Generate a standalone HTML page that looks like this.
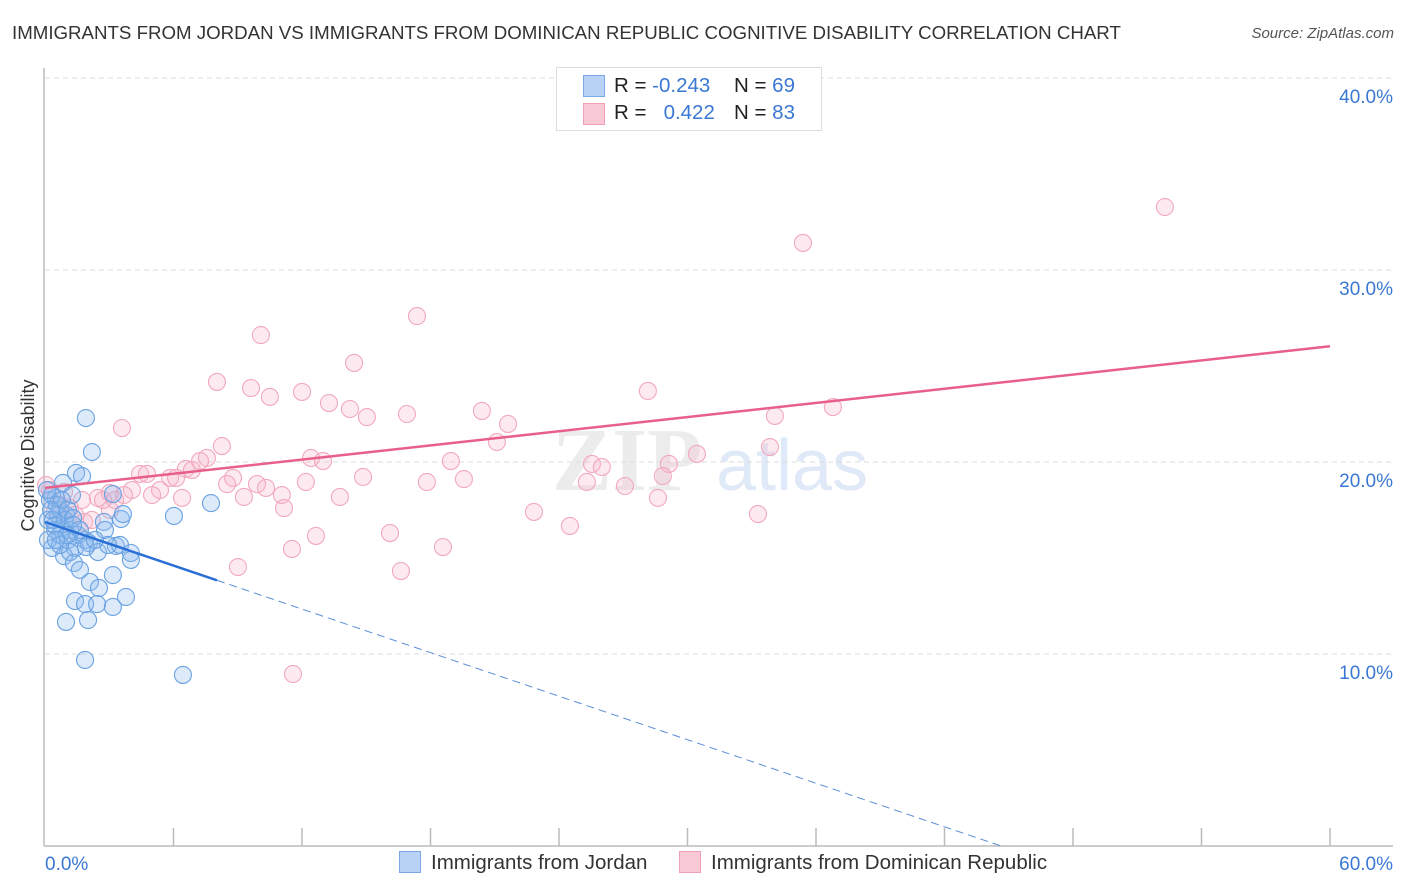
<!DOCTYPE html>
<html><head><meta charset="utf-8"><style>
body{margin:0;background:#fff;font-family:"Liberation Sans",sans-serif;}
#wrap{position:relative;width:1406px;height:892px;overflow:hidden;}
.t{position:absolute;white-space:nowrap;}
</style></head><body>
<div id="wrap">
<div class="t" style="left:12px;top:22px;font-size:18.7px;color:#333;">IMMIGRANTS FROM JORDAN VS IMMIGRANTS FROM DOMINICAN REPUBLIC COGNITIVE DISABILITY CORRELATION CHART</div>
<div class="t" style="right:12px;top:25px;font-size:15px;color:#555;font-style:italic;">Source: ZipAtlas.com</div>
<svg id="svg" width="1406" height="892" style="position:absolute;left:0;top:0"></svg>
<div class="t" style="left:556px;top:67px;width:264px;height:62px;border:1px solid #ddd;background:#fff;font-size:20.5px;">
 <div style="position:absolute;left:26px;top:7px;width:20px;height:20px;background:#b9d3f7;border:1px solid #7aa9e8;"></div>
 <div style="position:absolute;left:26px;top:35px;width:20px;height:20px;background:#fbc8d6;border:1px solid #f0a0b8;"></div>
 <div class="t" style="left:57px;top:6px;color:#222;">R = <span style="color:#3a78d4">-0.243</span></div>
 <div class="t" style="left:177px;top:6px;color:#222;">N = <span style="color:#3a78d4">69</span></div>
 <div class="t" style="left:57px;top:33px;color:#222;">R = &nbsp;&nbsp;<span style="color:#3a78d4">0.422</span></div>
 <div class="t" style="left:177px;top:33px;color:#222;">N = <span style="color:#3a78d4">83</span></div>
</div>
<div class="t" style="left:-54px;top:445px;width:165px;text-align:center;font-size:18px;color:#333;transform:rotate(-90deg);">Cognitive Disability</div>
<div class="t" style="left:399px;top:851px;font-size:20.5px;color:#333;"><span style="display:inline-block;width:20px;height:20px;background:#b9d3f7;border:1px solid #7aa9e8;vertical-align:-4px;margin-right:10px;"></span>Immigrants from Jordan</div>
<div class="t" style="left:679px;top:851px;font-size:20.5px;color:#333;"><span style="display:inline-block;width:20px;height:20px;background:#fbc8d6;border:1px solid #f0a0b8;vertical-align:-4px;margin-right:10px;"></span>Immigrants from Dominican Republic</div>
</div>
<script>
const xTicks=[0,60];
const yTicks=[10,20,30,40];
const jordanX=[1.91,2.19,1.45,1.73,0.84,1.26,3.17,0.23,0.51,0.70,0.98,0.14,0.47,0.79,1.17,1.54,1.87,2.75,3.55,3.64,6.02,7.75,0.33,0.70,1.07,1.40,2.05,2.47,3.31,3.50,4.01,4.01,0.89,1.17,1.35,1.63,2.10,2.52,3.17,1.40,1.87,2.43,3.17,3.78,0.98,2.01,1.87,6.44,0.47,0.61,0.93,0.09,0.33,0.56,0.79,1.07,1.31,0.14,0.37,0.70,1.63,2.80,2.94,1.91,2.33,1.31,1.03,0.28,0.51];
const jordanY=[22.29,20.52,19.43,19.27,18.91,18.28,18.33,18.02,18.13,17.50,17.24,16.98,16.72,16.56,16.46,16.20,15.94,16.88,17.03,17.29,17.19,17.86,15.52,16.20,15.94,15.52,15.78,15.31,15.63,15.68,15.26,14.90,15.10,15.31,14.74,14.38,13.75,13.44,14.11,12.76,12.60,12.60,12.45,12.97,11.67,11.77,9.69,8.91,16.46,17.24,16.98,18.54,18.28,17.76,18.02,17.50,17.08,15.94,16.98,15.68,16.46,16.46,15.68,15.57,15.94,16.72,16.20,17.50,15.94];
const domX=[52.29,35.39,17.37,10.08,14.43,8.03,9.62,10.50,12.00,28.15,13.26,14.24,15.03,16.90,20.40,21.62,34.08,36.79,3.59,21.10,33.85,8.26,7.56,12.42,12.98,18.95,30.44,25.54,26.00,29.13,7.24,6.58,4.44,4.76,5.84,6.12,6.86,8.78,14.85,19.56,28.85,25.30,27.08,17.83,12.18,9.90,10.32,8.50,4.06,5.37,5.00,3.69,2.47,3.03,1.73,11.06,6.40,9.29,13.77,28.62,11.16,22.83,33.29,24.51,16.11,12.65,11.53,18.58,9.01,16.62,11.58,0.89,1.17,3.03,3.27,0.70,0.23,1.40,1.82,2.19,2.71,0.47,0.05];
const domY=[33.28,31.41,27.60,26.61,25.16,24.17,23.85,23.39,23.65,23.70,23.07,22.76,22.34,22.50,22.66,21.98,22.40,22.86,21.77,21.04,20.78,20.83,20.21,20.21,20.05,20.05,20.42,19.90,19.74,19.90,20.05,19.64,19.38,19.38,19.17,19.17,19.58,19.17,19.22,19.11,19.27,18.96,18.75,18.96,18.96,18.85,18.65,18.85,18.54,18.54,18.28,18.28,18.13,18.39,18.02,18.28,18.13,18.18,18.18,18.13,17.60,17.40,17.29,16.67,16.30,16.15,15.47,15.57,14.53,14.32,8.96,18.44,17.60,17.50,18.02,17.76,18.54,17.24,16.88,16.98,18.02,17.50,18.80];
const jordanTrend=[16.875,-0.378];
const domTrend=[18.65,0.123];

const X=v=>45+v*(1285/60);
const Y=v=>846-v*19.2;
const svg=document.getElementById('svg');
const NS='http://www.w3.org/2000/svg';
function mk(tag,attrs,name){const e=document.createElementNS(NS,tag);for(const k in attrs)e.setAttribute(k,attrs[k]);


svg.appendChild(e);return e;}
let wm=mk('text',{x:552,y:490,'font-size':90,'font-family':'Liberation Serif,serif','font-weight':'bold',fill:'#ececec'},'watermark-zip');wm.textContent='ZIP';
let wm2=mk('text',{x:716,y:490,'font-size':72,'font-family':'Liberation Sans,sans-serif',fill:'#dfe9f7'},'watermark-atlas');wm2.textContent='atlas';
yTicks.forEach(t=>{mk('line',{x1:45,x2:1393,y1:Y(t),y2:Y(t),stroke:'#dcdcdc','stroke-dasharray':'5,4'},'gridline-'+t);
let l=mk('text',{x:1393,y:Y(t)+25,'text-anchor':'end','font-size':19,fill:'#3a78d4','font-family':'Liberation Sans,sans-serif'},'y-tick-label');l.textContent=t.toFixed(1)+'%';});
mk('line',{x1:44,x2:44,y1:68,y2:846,stroke:'#bbb','stroke-width':1.5},'y-axis-line');
mk('line',{x1:44,x2:1393,y1:846,y2:846,stroke:'#bbb','stroke-width':1.5},'x-axis-line');
for(let i=1;i<=10;i++){mk('line',{x1:X(i*6),x2:X(i*6),y1:828,y2:846,stroke:'#bbb','stroke-width':1.5},'x-tick');}
xTicks.forEach((t,i)=>{let l=mk('text',{x:i?1393:45,y:870,'text-anchor':i?'end':'start','font-size':19,fill:'#3a78d4','font-family':'Liberation Sans,sans-serif'},'x-tick-label');l.textContent=t.toFixed(1)+'%';});
domX.forEach((v,i)=>mk('circle',{cx:X(v),cy:Y(domY[i]),r:8.5,fill:'rgba(248,180,200,0.28)',stroke:'#f2a8bd','stroke-width':1.1},'dominican-point'));
jordanX.forEach((v,i)=>mk('circle',{cx:X(v),cy:Y(jordanY[i]),r:8.5,fill:'rgba(140,185,240,0.3)',stroke:'#6aa2e2','stroke-width':1.1},'jordan-point'));
mk('line',{x1:X(0),y1:Y(domTrend[0]),x2:X(60),y2:Y(domTrend[0]+domTrend[1]*60),stroke:'#e8608a','stroke-width':2.5},'dominican-trendline');
const jEnd=8.03, jZero=-jordanTrend[0]/jordanTrend[1];
mk('line',{x1:X(0),y1:Y(jordanTrend[0]),x2:X(jEnd),y2:Y(jordanTrend[0]+jordanTrend[1]*jEnd),stroke:'#2a6fd6','stroke-width':2.5},'jordan-trendline');
mk('line',{x1:X(jEnd),y1:Y(jordanTrend[0]+jordanTrend[1]*jEnd),x2:X(jZero),y2:Y(0),stroke:'#5a8fd8','stroke-width':1,'stroke-dasharray':'8,5'},'jordan-trendline-extension');
</script>
</body></html>
